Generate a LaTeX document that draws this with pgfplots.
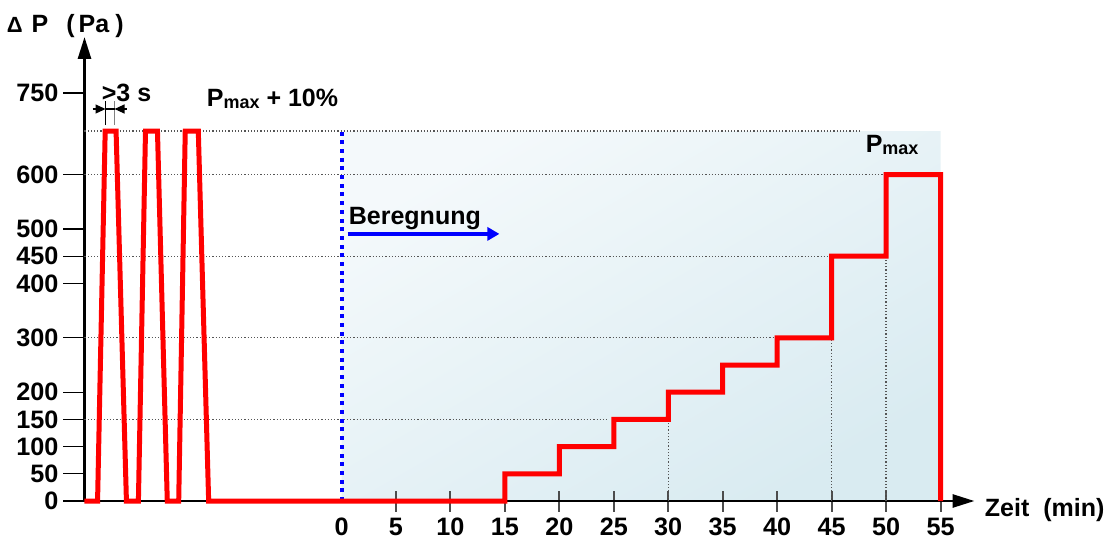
\documentclass[border=0pt]{standalone}
\usepackage{fontspec}
\setmainfont{Liberation Sans}
\usepackage{pgfplots}
\pgfplotsset{compat=1.18}
\usetikzlibrary{arrows.meta}
\definecolor{shTop}{HTML}{F4F9FB}
\definecolor{shBot}{HTML}{D9EBF1}
\definecolor{gridc}{HTML}{555555}
\newcommand{\lab}{\bfseries\fontsize{12.5}{15}\selectfont}
\newcommand{\sub}[1]{\raisebox{-1.2pt}{\bfseries\fontsize{9}{10}\selectfont #1}}
\begin{document}
\begin{tikzpicture}
\begin{axis}[
  at={(0,0)}, anchor=south west,
  scale only axis, width=445pt, height=232pt,
  xmin=-23.6, xmax=58.12, ymin=0, ymax=853,
  set layers, clip=false,
  axis lines=left,
  axis line style={line width=1.4pt, black, -{Triangle[length=11pt,width=6.5pt]}},
  xtick={5,10,...,55},
  extra x ticks={0},
  extra x tick style={tick style={draw=none}},
  ytick={0,50,100,150,200,300,400,450,500,600,750},
  xtick align=center, ytick align=outside,
  major tick length=10.5pt,
  xtick style={line width=1pt, gray!60!black},
  ytick style={line width=0.6pt, black},
  /pgf/number format/assume math mode=true,
  tick label style={font=\bfseries\fontsize{12.6}{14}\selectfont},
  yticklabel style={anchor=east, xshift=1pt},
  xticklabel style={anchor=north, yshift=-0.6pt, inner ysep=2.5pt},
]
% shaded test region
\addplot[draw=none, on layer=axis background, top color=shTop, bottom color=shBot, shading angle=30]
  coordinates {(0,0) (0,680) (55,680) (55,0)} \closedcycle;
% grid lines
\addplot[gridc, line width=0.6pt, densely dotted] coordinates {(-23.6,680) (47.6,680)};
\addplot[gridc, line width=0.6pt, densely dotted] coordinates {(-23.6,600) (49.7,600)};
\addplot[gridc, line width=0.6pt, densely dotted] coordinates {(-23.6,450) (44.6,450)};
\addplot[gridc, line width=0.6pt, densely dotted] coordinates {(-23.6,300) (39.6,300)};
\addplot[gridc, line width=0.6pt, densely dotted] coordinates {(-23.6,150) (24.4,150)};
\addplot[gridc, line width=0.6pt, densely dotted] coordinates {(30,0) (30,200)};
\addplot[gridc, line width=0.6pt, densely dotted] coordinates {(45,0) (45,450)};
\addplot[gridc, line width=0.6pt, densely dotted] coordinates {(50,0) (50,600)};
% start of rain
\addplot[blue, line width=2pt, dash pattern=on 2pt off 2.35pt] coordinates {(0,0) (0,680)};
\addplot[blue, line width=2pt, -{Triangle[length=6pt,width=6.5pt]}] coordinates {(0.55,491) (14.5,491)};
% pressure curve
\addplot[red, line width=2.5pt, line join=miter] coordinates {
  (-23.6,0) (-22.4,0) (-21.7,680) (-20.7,680) (-19.75,0) (-18.65,0)
  (-18.0,680) (-16.9,680) (-16.0,0) (-14.95,0) (-14.35,680) (-13.15,680)
  (-12.2,0) (15,0) (15,50) (20,50) (20,100) (25,100) (25,150) (30,150)
  (30,200) (35,200) (35,250) (40,250) (40,300) (45,300) (45,450) (50,450)
  (50,600) (55,600) (55,0)};
% annotations
\node[anchor=base west, inner sep=0] at (axis cs:-30.76,862) {\lab{\fontsize{11}{13}\selectfont Δ}\hspace{4.5pt}P\hspace{9pt}(\hspace{2pt}Pa\hspace{3pt})};
\node[anchor=base west, inner sep=0] at (axis cs:-22.04,735) {\lab >3 s};
\node[anchor=base west, inner sep=0] at (axis cs:-12.4,726) {\lab P\sub{max} + 10\%};
\node[anchor=base west, inner sep=0] at (axis cs:48.1,641) {\lab P\sub{max}};
\node[anchor=base west, inner sep=0] at (axis cs:0.64,509) {\lab Beregnung};
\node[anchor=base west, inner sep=0] at (axis cs:59.04,-29.4) {\lab Zeit\hspace{7pt}(min)};
\draw[black, line width=0.6pt] (axis cs:-21.67,691) -- (axis cs:-21.67,735);
\draw[gray, line width=0.6pt] (axis cs:-20.84,691) -- (axis cs:-20.84,735);
\draw[black, line width=0.6pt] (axis cs:-21.67,720.6) -- (axis cs:-20.84,720.6);
\draw[black, line width=0.6pt, -{Triangle[length=5pt,width=4.5pt]}] (axis cs:-22.86,720.6) -- (axis cs:-21.67,720.6);
\draw[black, line width=0.6pt, -{Triangle[length=5pt,width=4.5pt]}] (axis cs:-19.74,720.6) -- (axis cs:-20.84,720.6);
\end{axis}
\pgfresetboundingbox
\useasboundingbox (-42.25pt,-20.5pt) rectangle (512.75pt,250.5pt);
\end{tikzpicture}
\end{document}
